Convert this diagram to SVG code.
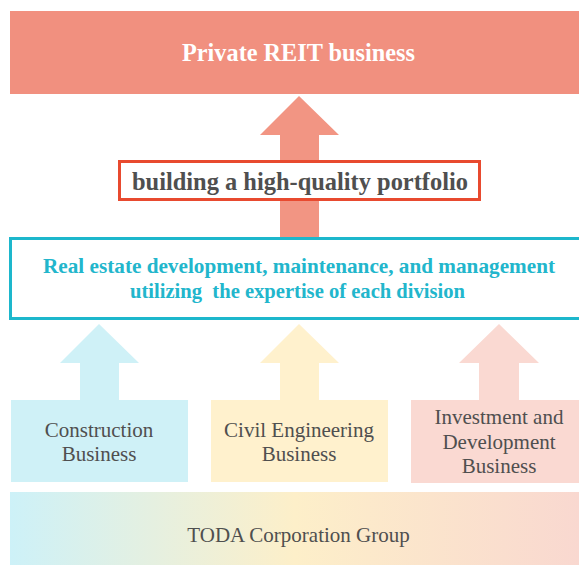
<svg xmlns="http://www.w3.org/2000/svg" width="579" height="565" viewBox="0 0 579 565">
<style>
.serif{font-family:"Liberation Serif","Times New Roman",serif;}
.bold{font-weight:bold;}
.gray{fill:#4f4f4f;}
.teal{fill:#22b6cc;}
.lbl{font-size:21px;text-anchor:middle;}
</style>
<defs>
<linearGradient id="grp" x1="0" y1="0" x2="1" y2="0">
<stop offset="0" stop-color="#cdf1f8"/>
<stop offset="0.5" stop-color="#fdefc9"/>
<stop offset="1" stop-color="#f9d8d0"/>
</linearGradient>
</defs>
<g id="connectors">
<polygon points="299,96 339,135 319,135 319,237 280,237 280,135 260,135" fill="#f29583"/>
<polygon points="99,324 139,363 119,363 119,400 80,400 80,363 60,363" fill="#cff1f7"/>
<polygon points="299,324 339,363 319,363 319,400 280,400 280,363 260,363" fill="#fff1cd"/>
<polygon points="499,324 539,363 519,363 519,400 479,400 479,363 459,363" fill="#fad9d2"/>
</g>
<g id="private-reit">
<rect x="10" y="11" width="569" height="83" fill="#f1907f"/>
<text class="serif bold" x="298.5" y="61" font-size="26" fill="#ffffff" text-anchor="middle" textLength="233" lengthAdjust="spacingAndGlyphs">Private REIT business</text>
</g>
<g id="portfolio">
<rect x="119.5" y="161.5" width="360" height="38" fill="#ffffff" stroke="#e84a2f" stroke-width="3"/>
<text class="serif bold gray" x="300" y="190" font-size="25" text-anchor="middle" textLength="336" lengthAdjust="spacingAndGlyphs">building a high-quality portfolio</text>
</g>
<g id="real-estate">
<rect x="10.5" y="238.5" width="580" height="80" fill="#ffffff" stroke="#1db7cc" stroke-width="3"/>
<text class="serif bold teal" x="299" y="273" font-size="21" text-anchor="middle" textLength="512" lengthAdjust="spacingAndGlyphs">Real estate development, maintenance, and management</text>
<text class="serif bold teal" x="297.5" y="298" font-size="21" text-anchor="middle" textLength="335" lengthAdjust="spacingAndGlyphs" xml:space="preserve">utilizing  the expertise of each division</text>
</g>
<g id="construction">
<rect x="11" y="400" width="177" height="82" fill="#cff1f7"/>
<text class="serif gray lbl" x="99" y="437">Construction</text>
<text class="serif gray lbl" x="99" y="461">Business</text>
</g>
<g id="civil">
<rect x="211" y="400" width="177" height="82" fill="#fff1cd"/>
<text class="serif gray lbl" x="299" y="437">Civil Engineering</text>
<text class="serif gray lbl" x="299" y="461">Business</text>
</g>
<g id="investment">
<rect x="411" y="400" width="168" height="83" fill="#fad9d2"/>
<text class="serif gray lbl" x="499" y="424">Investment and</text>
<text class="serif gray lbl" x="499" y="449">Development</text>
<text class="serif gray lbl" x="499" y="473">Business</text>
</g>
<g id="toda">
<rect x="10" y="492" width="569" height="73" fill="url(#grp)"/>
<text class="serif gray lbl" x="298.5" y="542">TODA Corporation Group</text>
</g>
</svg>
